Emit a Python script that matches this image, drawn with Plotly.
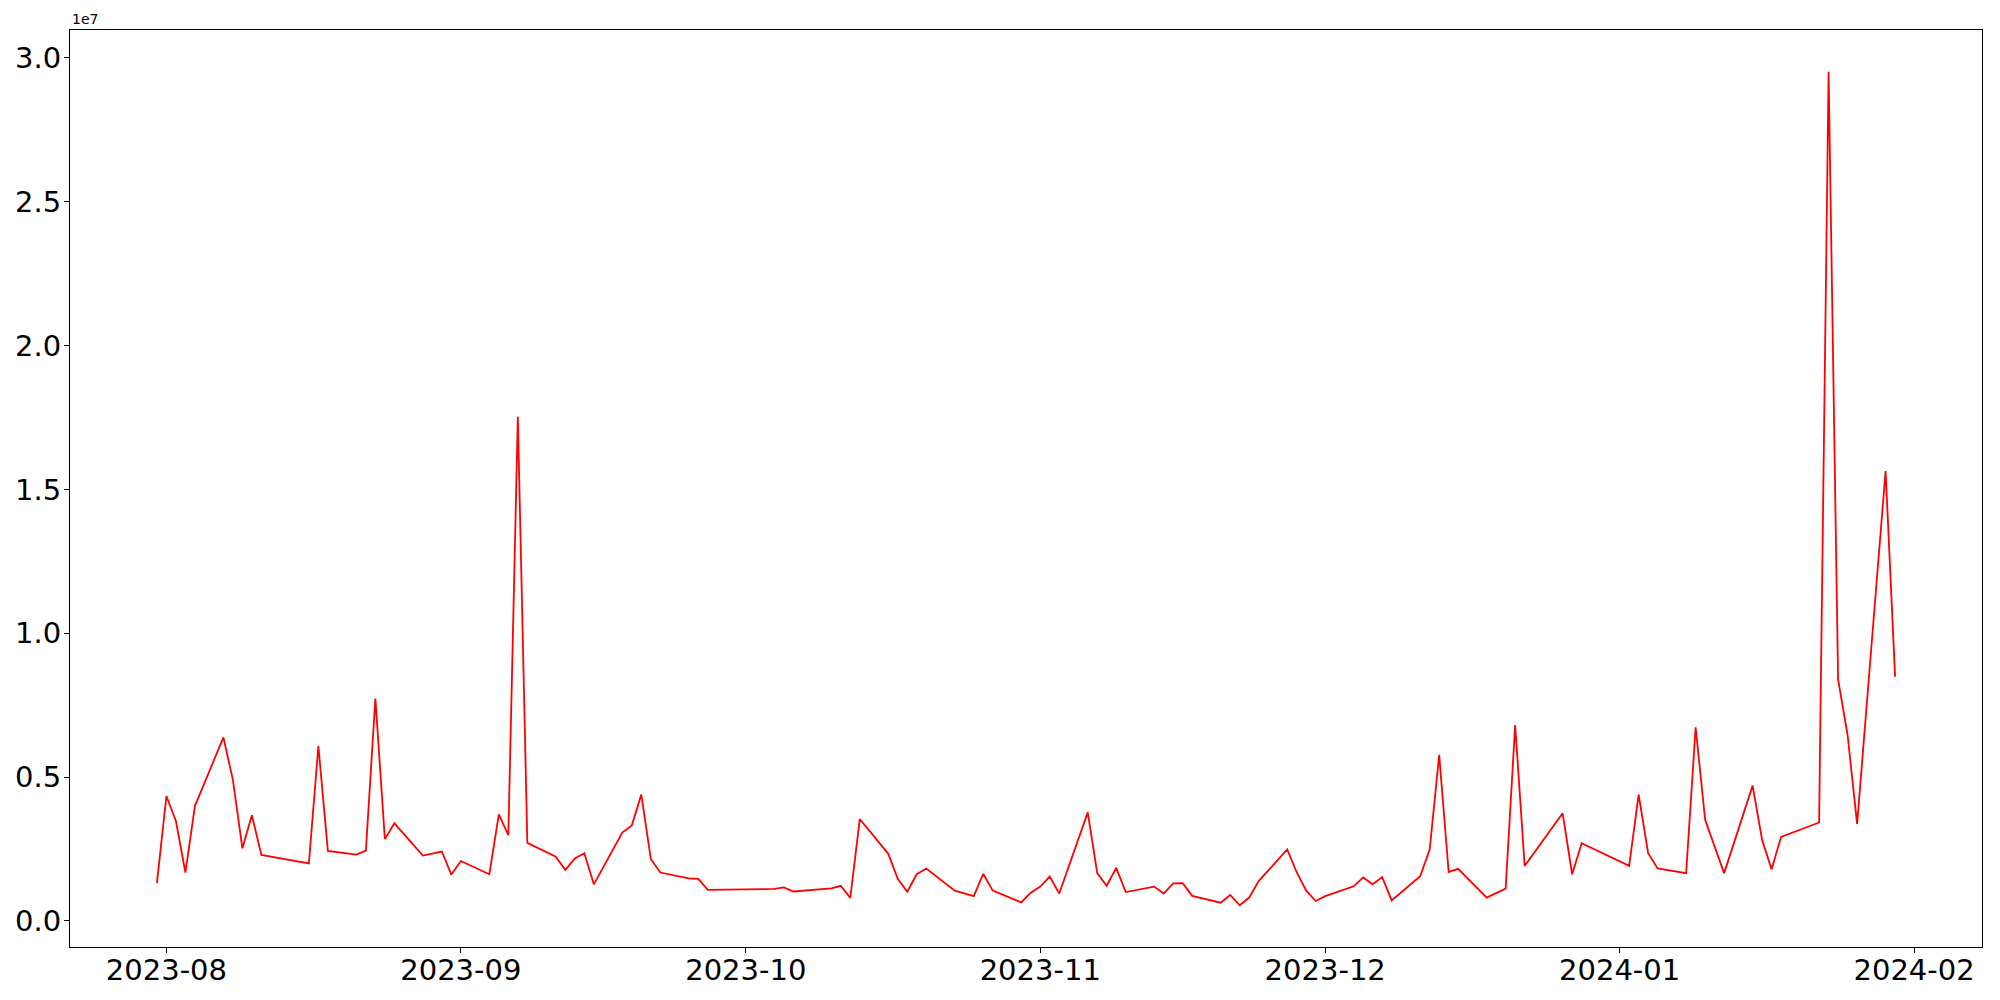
import plotly.graph_objects as go
import pandas as pd

dates = [
    "2023-07-31", "2023-08-01", "2023-08-02", "2023-08-03", "2023-08-04",
    "2023-08-07", "2023-08-08", "2023-08-09", "2023-08-10", "2023-08-11",
    "2023-08-16", "2023-08-17", "2023-08-18", "2023-08-21", "2023-08-22",
    "2023-08-23", "2023-08-24", "2023-08-25", "2023-08-28", "2023-08-30",
    "2023-08-31", "2023-09-01", "2023-09-04", "2023-09-05", "2023-09-06",
    "2023-09-07", "2023-09-08", "2023-09-11", "2023-09-12", "2023-09-13",
    "2023-09-14", "2023-09-15", "2023-09-18", "2023-09-19", "2023-09-20",
    "2023-09-21", "2023-09-22", "2023-09-25", "2023-09-26", "2023-09-27",
    "2023-10-04", "2023-10-05", "2023-10-06", "2023-10-10", "2023-10-11",
    "2023-10-12", "2023-10-13", "2023-10-16", "2023-10-17", "2023-10-18",
    "2023-10-19", "2023-10-20", "2023-10-23", "2023-10-25", "2023-10-26",
    "2023-10-27", "2023-10-30", "2023-10-31", "2023-11-01", "2023-11-02",
    "2023-11-03", "2023-11-06", "2023-11-07", "2023-11-08", "2023-11-09",
    "2023-11-10", "2023-11-13", "2023-11-14", "2023-11-15", "2023-11-16",
    "2023-11-17", "2023-11-20", "2023-11-21", "2023-11-22", "2023-11-23",
    "2023-11-24", "2023-11-27", "2023-11-28", "2023-11-29", "2023-11-30",
    "2023-12-01", "2023-12-04", "2023-12-05", "2023-12-06", "2023-12-07",
    "2023-12-08", "2023-12-11", "2023-12-12", "2023-12-13", "2023-12-14",
    "2023-12-15", "2023-12-18", "2023-12-20", "2023-12-21", "2023-12-22",
    "2023-12-26", "2023-12-27", "2023-12-28", "2024-01-02", "2024-01-03",
    "2024-01-04", "2024-01-05", "2024-01-08", "2024-01-09", "2024-01-10",
    "2024-01-12", "2024-01-15", "2024-01-16", "2024-01-17", "2024-01-18",
    "2024-01-22", "2024-01-23", "2024-01-24", "2024-01-25", "2024-01-26",
    "2024-01-29", "2024-01-30",
]

values = [
    1.31e6, 4.34e6, 3.47e6, 1.68e6, 3.99e6,
    6.38e6, 4.90e6, 2.52e6, 3.67e6, 2.29e6,
    2.00e6, 6.08e6, 2.43e6, 2.30e6, 2.44e6,
    7.73e6, 2.84e6, 3.39e6, 2.27e6, 2.41e6,
    1.61e6, 2.08e6, 1.62e6, 3.70e6, 2.98e6,
    17.52e6, 2.71e6, 2.23e6, 1.77e6, 2.17e6,
    2.35e6, 1.27e6, 3.07e6, 3.32e6, 4.39e6,
    2.15e6, 1.68e6, 1.48e6, 1.46e6, 1.08e6,
    1.11e6, 1.16e6, 1.02e6, 1.13e6, 1.22e6,
    0.80e6, 3.54e6, 2.33e6, 1.46e6, 1.01e6,
    1.62e6, 1.82e6, 1.05e6, 0.86e6, 1.63e6,
    1.05e6, 0.64e6, 0.98e6, 1.19e6, 1.54e6,
    0.95e6, 3.77e6, 1.66e6, 1.22e6, 1.84e6,
    1.00e6, 1.19e6, 0.95e6, 1.30e6, 1.31e6,
    0.87e6, 0.63e6, 0.90e6, 0.54e6, 0.81e6,
    1.38e6, 2.48e6, 1.69e6, 1.05e6, 0.69e6,
    0.86e6, 1.20e6, 1.51e6, 1.27e6, 1.52e6,
    0.71e6, 1.55e6, 2.48e6, 5.77e6, 1.70e6,
    1.81e6, 0.81e6, 1.12e6, 6.81e6, 1.91e6,
    3.74e6, 1.62e6, 2.70e6, 1.91e6, 4.39e6,
    2.35e6, 1.82e6, 1.66e6, 6.73e6, 3.51e6,
    1.66e6, 4.70e6, 2.81e6, 1.79e6, 2.92e6,
    3.42e6, 29.52e6, 8.39e6, 6.46e6, 3.37e6,
    15.64e6, 8.49e6,
]

x_tick_vals = ["2023-08-01", "2023-09-01", "2023-10-01", "2023-11-01",
               "2023-12-01", "2024-01-01", "2024-02-01"]
x_tick_text = ["2023-08", "2023-09", "2023-10", "2023-11",
               "2023-12", "2024-01", "2024-02"]
y_tick_vals = [0, 5e6, 10e6, 15e6, 20e6, 25e6, 30e6]
y_tick_text = ["0.0", "0.5", "1.0", "1.5", "2.0", "2.5", "3.0"]
offset_label = "1e7"

# matplotlib-like 5% margins
d = pd.to_datetime(dates)
span = d.max() - d.min()
x_range = [d.min() - 0.05 * span, d.max() + 0.05 * span]
vmin, vmax = min(values), max(values)
vspan = vmax - vmin
y_range = [vmin - 0.05 * vspan, vmax + 0.05 * vspan]

fig = go.Figure()
fig.add_trace(go.Scatter(x=dates, y=values, mode="lines",
                         line=dict(color="red", width=1.8),
                         showlegend=False))

font = dict(family="DejaVu Sans", size=29, color="black")

fig.update_layout(
    width=1984, height=984,
    margin=dict(l=62, r=10, t=22, b=45),
    paper_bgcolor="white", plot_bgcolor="white",
    font=font,
    xaxis=dict(
        type="date", range=x_range, automargin=False,
        tickvals=x_tick_vals, ticktext=x_tick_text,
        showgrid=False, zeroline=False,
        showline=True, linecolor="black", linewidth=1.1, mirror=True,
        ticks="outside", ticklen=5, tickwidth=1.1, tickcolor="black",
        tickfont=font, ticklabelstandoff=-8,
    ),
    yaxis=dict(
        range=y_range, automargin=False,
        tickvals=y_tick_vals, ticktext=y_tick_text,
        showgrid=False, zeroline=False,
        showline=True, linecolor="black", linewidth=1.1, mirror=True,
        ticks="outside", ticklen=5, tickwidth=1.1, tickcolor="black",
        tickfont=font, ticklabelstandoff=-3,
    ),
    annotations=[dict(
        text=offset_label, xref="paper", yref="paper", x=0, y=1,
        xanchor="left", yanchor="bottom", showarrow=False, yshift=1,
        font=dict(family="DejaVu Sans", size=14, color="black"),
    )],
)

fig.write_html("out.html")
